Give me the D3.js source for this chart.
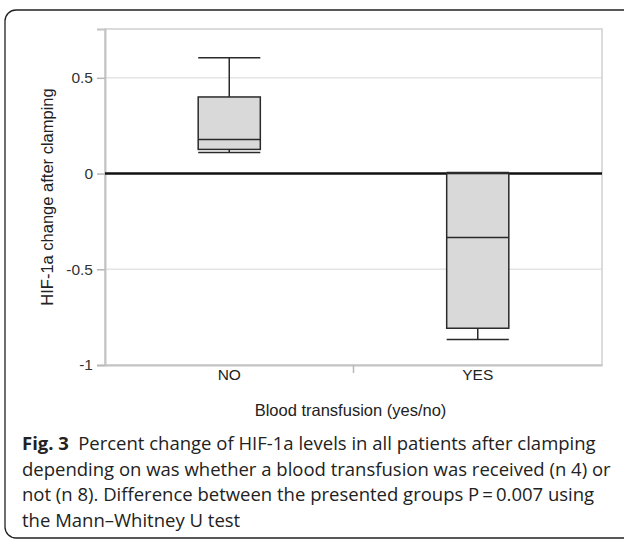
<!DOCTYPE html>
<html>
<head>
<meta charset="utf-8">
<script src="https://cdn.jsdelivr.net/npm/d3@7"></script>
<style>
  html, body { margin: 0; padding: 0; background: #fff; }
  svg { display: block; }
</style>
</head>
<body>
<script>
// ---- data ----
const categories = ["NO", "YES"];
const whiskerLow = [0.110, -0.867];
const q1Values = [0.126, -0.808];
const medianValues = [0.178, -0.334];
const q3Values = [0.400, 0.000];
const whiskerHigh = [0.605, 0.006];
const yTickValues = [-1, -0.5, 0, 0.5];
const yTickLabels = ["-1", "-0.5", "0", "0.5"];
const xTitle = "Blood transfusion (yes/no)";
const yTitle = "HIF-1a change after clamping";
const captionLines = [
  [{t: "Fig. 3", b: true}, {t: "\u2002Percent change of HIF-1a levels in all patients after clamping", b: false}],
  [{t: "depending on was whether a blood transfusion was received (n 4) or", b: false}],
  [{t: "not (n 8). Difference between the presented groups P\u2009=\u20090.007 using", b: false}],
  [{t: "the Mann\u2013Whitney U test", b: false}]
];

const W = 624, H = 541;
const plot = {left: 105, right: 602, top: 29, bottom: 365};
const axisFont = "Liberation Sans, Arial, sans-serif";

const svg = d3.select("body").append("svg").attr("width", W).attr("height", H);

// frame
svg.append("rect").attr("x", 5).attr("y", 10).attr("width", 640).attr("height", 528)
  .attr("rx", 11).attr("fill", "none").attr("stroke", "#222").attr("stroke-width", 1.3);

const y = d3.scaleLinear().domain([-1, 0.755]).range([plot.bottom, plot.top]);
const x = d3.scaleBand().domain(categories).range([plot.left, plot.right]).padding(0);
const bw = x.bandwidth() * 0.25;

const data = categories.map((c, i) => ({
  c, lo: whiskerLow[i], q1: q1Values[i], med: medianValues[i], q3: q3Values[i], hi: whiskerHigh[i]
}));

// gridlines
svg.append("g").selectAll("line").data(yTickValues.filter(v => v !== 0 && v !== -1)).join("line")
  .attr("x1", plot.left).attr("x2", plot.right)
  .attr("y1", d => y(d)).attr("y2", d => y(d))
  .attr("stroke", "#e4e4e4").attr("stroke-width", 1.5);

// plot border
svg.append("rect").attr("x", plot.left).attr("y", plot.top)
  .attr("width", plot.right - plot.left).attr("height", plot.bottom - plot.top)
  .attr("fill", "none").attr("stroke", "#d0d0d0").attr("stroke-width", 1.5);

// y axis
const yAxis = d3.axisLeft(y).tickValues(yTickValues)
  .tickFormat((d, i) => yTickLabels[i]).tickSize(8).tickPadding(4);
const gy = svg.append("g").attr("transform", `translate(${plot.left},0)`).call(yAxis);
gy.select(".domain").attr("stroke", "#c4c4c4").attr("stroke-width", 2);
gy.selectAll(".tick line").attr("stroke", "#b8b8b8").attr("stroke-width", 1.5);
gy.selectAll(".tick text").attr("font-family", axisFont)
  .attr("font-size", 15.5).attr("fill", "#333");

// x axis
const xAxis = d3.axisBottom(x).tickSize(0).tickPadding(4);
const gx = svg.append("g").attr("transform", `translate(0,${plot.bottom})`).call(xAxis);
gx.select(".domain").attr("stroke", "#c4c4c4").attr("stroke-width", 2);
gx.selectAll(".tick text").attr("font-family", axisFont)
  .attr("font-size", 15.5).attr("fill", "#222");
// separator tick between categories
gx.append("line").attr("x1", x("YES")).attr("x2", x("YES")).attr("y1", 0).attr("y2", 8)
  .attr("stroke", "#b8b8b8").attr("stroke-width", 1.5);

// zero reference line
svg.append("line").attr("x1", plot.left).attr("x2", plot.right)
  .attr("y1", y(0)).attr("y2", y(0)).attr("stroke", "#111").attr("stroke-width", 2.5);

// boxes
const g = svg.append("g").selectAll("g").data(data).join("g")
  .attr("transform", d => `translate(${x(d.c) + x.bandwidth() / 2},0)`);
const st = {stroke: "#2a2a2a", sw: 1.5};
g.append("line").attr("x1", 0).attr("x2", 0).attr("y1", d => y(d.hi)).attr("y2", d => y(d.q3))
  .attr("stroke", st.stroke).attr("stroke-width", st.sw);
g.append("line").attr("x1", 0).attr("x2", 0).attr("y1", d => y(d.q1)).attr("y2", d => y(d.lo))
  .attr("stroke", st.stroke).attr("stroke-width", st.sw);
g.append("rect").attr("x", -bw / 2).attr("width", bw)
  .attr("y", d => y(d.q3)).attr("height", d => y(d.q1) - y(d.q3))
  .attr("fill", "#d9d9d9").attr("stroke", st.stroke).attr("stroke-width", st.sw);
g.append("line").attr("x1", -bw / 2).attr("x2", bw / 2).attr("y1", d => y(d.med)).attr("y2", d => y(d.med))
  .attr("stroke", st.stroke).attr("stroke-width", st.sw);
g.append("line").attr("x1", -bw / 2).attr("x2", bw / 2).attr("y1", d => y(d.hi)).attr("y2", d => y(d.hi))
  .attr("stroke", st.stroke).attr("stroke-width", st.sw);
g.append("line").attr("x1", -bw / 2).attr("x2", bw / 2).attr("y1", d => y(d.lo)).attr("y2", d => y(d.lo))
  .attr("stroke", st.stroke).attr("stroke-width", st.sw);

// axis titles
svg.append("text").attr("x", (plot.left + plot.right) / 2 - 3).attr("y", 416)
  .attr("text-anchor", "middle").attr("font-family", axisFont)
  .attr("font-size", 16.5).attr("fill", "#222").text(xTitle);
svg.append("text").attr("transform", `translate(53,${(plot.top + plot.bottom) / 2}) rotate(-90)`)
  .attr("text-anchor", "middle").attr("font-family", axisFont)
  .attr("font-size", 16.5).attr("fill", "#222").text(yTitle);

// caption
const capBase = [450, 475.5, 501, 526.5];
captionLines.forEach((line, i) => {
  const t = svg.append("text").attr("x", 22).attr("y", capBase[i])
    .attr("font-family", "Open Sans, Noto Sans, sans-serif").attr("font-size", 18.5).attr("fill", "#222");
  line.forEach(s => t.append("tspan").attr("font-weight", s.b ? 700 : 400).text(s.t));
});
</script>
</body>
</html>
